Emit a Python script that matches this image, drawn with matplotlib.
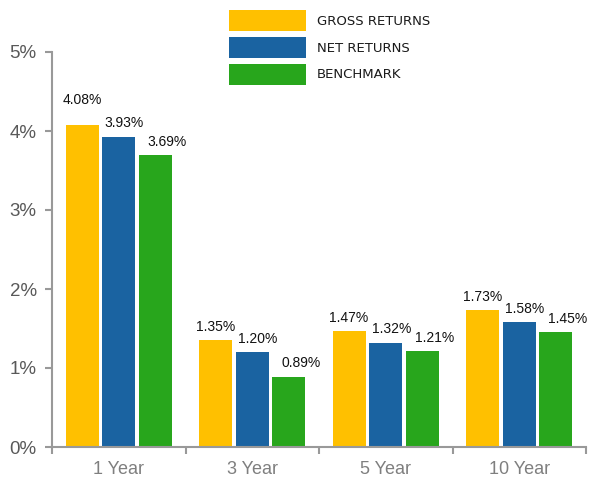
import matplotlib
matplotlib.use("Agg")
import matplotlib.pyplot as plt
import numpy as np

categories = ["1 Year", "3 Year", "5 Year", "10 Year"]
gross = [4.08, 1.35, 1.47, 1.73]
net = [3.93, 1.20, 1.32, 1.58]
bench = [3.69, 0.89, 1.21, 1.45]
series_names = ["GROSS RETURNS", "NET RETURNS", "BENCHMARK"]
colors = ["#FFC000", "#1A63A1", "#28A61C"]

plt.rcParams['font.family'] = ['Liberation Sans', 'DejaVu Sans']

fig = plt.figure(figsize=(5.89, 4.79), dpi=100)
ax = fig.add_axes([52/589, 32/479, 534/589, 395/479])

x = np.arange(len(categories))
w = 0.247
offs = [-0.275, 0.0, 0.275]
# label offsets in points (x shift per series, vertical padding)
label_dx = [0, 4, 8.5]
label_dy = 4.5
extra_dy = {(0, 0): 8.5}
handles = []
for si, (vals, off, c, name) in enumerate(zip([gross, net, bench], offs, colors, series_names)):
    b = ax.bar(x + off, vals, width=w, color=c, label=name, zorder=2)
    handles.append(b)
    for ci, v in enumerate(vals):
        ax.annotate(f"{v:.2f}%", xy=(x[ci] + off, v), xytext=(label_dx[si], label_dy + extra_dy.get((si, ci), 0)),
                    textcoords="offset points", ha="center", va="bottom",
                    fontsize=10, color="#111111")

ax.set_xlim(-0.5, 3.5)
ax.set_ylim(0, 5)
ax.set_yticks(range(0, 6))
ax.set_yticklabels([f"{i}%" for i in range(0, 6)], fontsize=13.5, color="#595959")
ax.set_xticks([-0.5, 0.5, 1.5, 2.5, 3.5], minor=False)
ax.set_xticklabels([])
ax.set_xticks(x, minor=True)
ax.set_xticklabels(categories, minor=True, fontsize=13, color="#7f7f7f")
ax.tick_params(axis="x", which="minor", length=0, pad=10)
ax.tick_params(axis="x", which="major", length=5, color="#999999", width=1.5, direction="out")
ax.tick_params(axis="y", length=5, color="#999999", width=1.5, direction="out", pad=6)

for s in ["top", "right"]:
    ax.spines[s].set_visible(False)
for s in ["left", "bottom"]:
    ax.spines[s].set_color("#999999")
    ax.spines[s].set_linewidth(1.5)

leg = fig.legend(handles=handles, labels=series_names, loc="upper left",
                 bbox_to_anchor=(229/589, 1 - 10/479), frameon=False,
                 handlelength=5.8, handleheight=2.1, handletextpad=0.85,
                 labelspacing=0.42, borderaxespad=0, borderpad=0,
                 prop={'family': 'DejaVu Sans', 'size': 9.5})
for t in leg.get_texts():
    t.set_color("#1a1a1a")

fig.savefig("out.png", dpi=100)
